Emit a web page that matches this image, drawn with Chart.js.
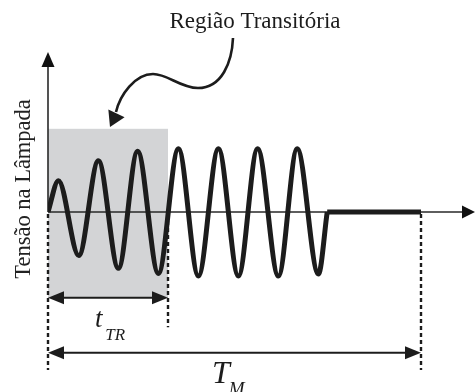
<!DOCTYPE html>
<html>
<head>
<meta charset="utf-8">
<script src="https://cdn.jsdelivr.net/npm/chart.js@4/dist/chart.umd.min.js"></script>
<style>
  html, body { margin: 0; padding: 0; background: #fff; }
  canvas { display: block; }
</style>
</head>
<body>
<canvas id="grafico" width="475" height="392"></canvas>
<script>
// Tempo em períodos da tensão aplicada; tensão normalizada pelo valor de pico em regime
const instantes = [0, 0.26, 0.77, 1.26, 1.76, 2.24, 2.76, 3.26, 3.76, 4.26, 4.76, 5.24, 5.76, 6.23, 6.76, 6.98];
const tensao    = [0, 0.49, -0.68, 0.80, -0.88, 0.95, -0.96, 0.99, -1.00, 0.99, -1.00, 0.99, -1.00, 0.99, -0.97, 0];

// Lâmpada desligada: tensão nula até o fim do intervalo medido
const instantesDesligada = [6.98, 9.325];
const tensaoDesligada    = [0, 0];

// Intervalos marcados no desenho
const regiaoTransitoria = { inicio: 0, fim: 3, topo: 1.30, base: -1.34 };
const intervaloMedido   = { inicio: 0, fim: 9.325, cota: -2.20 };

// Textos
const titulo = 'Região Transitória';
const rotuloEixoY = 'Tensão na Lâmpada';
const rotuloTTR = ['t', 'TR'];
const rotuloTM = ['T', 'M'];

const SERIF = '"Liberation Serif", "Times New Roman", "DejaVu Serif", serif';
const PRETO = '#1c1c1c';

function pontos(xs, ys) {
  return xs.map((v, i) => ({ x: v, y: ys[i] }));
}

// Ponta de seta cheia, com vértice em (tx, ty) apontando na direção (dx, dy)
function seta(ctx, tx, ty, dx, dy, comp, meia) {
  const n = Math.hypot(dx, dy);
  const ux = dx / n, uy = dy / n;
  const bx = tx - ux * comp, by = ty - uy * comp;
  ctx.beginPath();
  ctx.moveTo(tx, ty);
  ctx.lineTo(bx - uy * meia, by + ux * meia);
  ctx.lineTo(bx + uy * meia, by - ux * meia);
  ctx.closePath();
  ctx.fill();
}

function cotaHorizontal(ctx, x1, x2, yy) {
  const comp = 16, meia = 6.5;
  ctx.beginPath();
  ctx.moveTo(x1 + comp - 2, yy);
  ctx.lineTo(x2 - comp + 2, yy);
  ctx.stroke();
  seta(ctx, x1, yy, -1, 0, comp, meia);
  seta(ctx, x2, yy, 1, 0, comp, meia);
}

function linhaTracejada(ctx, xx, y1, y2) {
  ctx.beginPath();
  ctx.moveTo(xx, y1);
  ctx.lineTo(xx, y2);
  ctx.stroke();
}

const desenho = {
  id: 'desenho',
  beforeDatasetsDraw(chart) {
    const { ctx, scales: { x, y } } = chart;
    const X = v => x.getPixelForValue(v), Y = v => y.getPixelForValue(v);
    ctx.save();

    // Faixa cinza da região transitória
    ctx.fillStyle = '#d3d4d6';
    ctx.fillRect(X(regiaoTransitoria.inicio), Y(regiaoTransitoria.topo),
      X(regiaoTransitoria.fim) - X(regiaoTransitoria.inicio),
      Y(regiaoTransitoria.base) - Y(regiaoTransitoria.topo));

    // Eixos com setas
    ctx.strokeStyle = '#2a2a2a';
    ctx.fillStyle = '#111';
    ctx.lineWidth = 1.6;
    ctx.beginPath();
    ctx.moveTo(X(0), Y(0));
    ctx.lineTo(X(x.max) - 10, Y(0));
    ctx.moveTo(X(0), Y(0));
    ctx.lineTo(X(0), Y(y.max) + 10);
    ctx.stroke();
    seta(ctx, X(x.max), Y(0), 1, 0, 13, 6.5);
    seta(ctx, X(0), Y(y.max), 0, -1, 15, 6.5);
    ctx.restore();
  },
  afterDatasetsDraw(chart) {
    const { ctx, scales: { x, y } } = chart;
    const X = v => x.getPixelForValue(v), Y = v => y.getPixelForValue(v);
    ctx.save();
    ctx.strokeStyle = PRETO;
    ctx.fillStyle = PRETO;

    // Linhas de chamada tracejadas
    ctx.lineWidth = 2.4;
    ctx.setLineDash([4, 3]);
    linhaTracejada(ctx, X(intervaloMedido.inicio), Y(0) + 2, Y(-2.47));
    linhaTracejada(ctx, X(regiaoTransitoria.fim), Y(0) + 2, Y(-1.80));
    linhaTracejada(ctx, X(intervaloMedido.fim), Y(0) + 2, Y(-2.47));
    ctx.setLineDash([]);

    // Cotas t_TR e T_M
    ctx.lineWidth = 2;
    cotaHorizontal(ctx, X(regiaoTransitoria.inicio), X(regiaoTransitoria.fim), Y(regiaoTransitoria.base));
    cotaHorizontal(ctx, X(intervaloMedido.inicio), X(intervaloMedido.fim), Y(intervaloMedido.cota));

    // Rótulos das cotas
    ctx.textBaseline = 'alphabetic';
    ctx.textAlign = 'left';
    ctx.font = 'italic 27px ' + SERIF;
    ctx.fillText(rotuloTTR[0], X(1.175), Y(-1.80));
    ctx.font = 'italic 17px ' + SERIF;
    ctx.fillText(rotuloTTR[1], X(1.43), Y(-2.00));
    ctx.font = 'italic 32px ' + SERIF;
    ctx.fillText(rotuloTM[0], X(4.10), Y(-2.67));
    ctx.font = 'italic 19px ' + SERIF;
    ctx.fillText(rotuloTM[1], X(4.52), Y(-2.86));

    // Título e seta curva apontando para a região transitória
    ctx.font = '23px ' + SERIF;
    ctx.textAlign = 'center';
    ctx.fillText(titulo, X(5.175), Y(2.875));

    ctx.lineWidth = 2.6;
    ctx.beginPath();
    ctx.moveTo(X(4.625), Y(2.719));
    ctx.bezierCurveTo(X(4.60), Y(2.344), X(4.35), Y(1.9375), X(3.75), Y(1.9375));
    ctx.bezierCurveTo(X(3.30), Y(1.9375), X(3.00), Y(2.156), X(2.625), Y(2.156));
    ctx.bezierCurveTo(X(2.175), Y(2.156), X(1.80), Y(1.828), X(1.70), Y(1.5625));
    ctx.stroke();
    seta(ctx, X(1.55), Y(1.328), X(1.55) - X(1.72), Y(1.328) - Y(1.55), 15, 9);

    // Rótulo do eixo vertical
    ctx.font = '22.5px ' + SERIF;
    ctx.translate(X(-0.6), Y(0.36));
    ctx.rotate(-Math.PI / 2);
    ctx.textAlign = 'center';
    ctx.textBaseline = 'middle';
    ctx.fillStyle = '#222';
    ctx.fillText(rotuloEixoY, 0, 0);
    ctx.restore();
  }
};

new Chart(document.getElementById('grafico'), {
  type: 'line',
  data: {
    datasets: [
      {
        data: pontos(instantes, tensao),
        borderColor: PRETO,
        borderWidth: 5,
        pointRadius: 0,
        cubicInterpolationMode: 'monotone',
        fill: false
      },
      {
        data: pontos(instantesDesligada, tensaoDesligada),
        borderColor: PRETO,
        borderWidth: 5,
        borderCapStyle: 'butt',
        pointRadius: 0,
        tension: 0,
        fill: false
      }
    ]
  },
  options: {
    responsive: false,
    devicePixelRatio: 1,
    animation: false,
    layout: { padding: { left: 48, right: 0, top: 52, bottom: 20 } },
    scales: {
      x: { type: 'linear', min: 0, max: 10.675, display: false },
      y: { type: 'linear', min: -2.5, max: 2.5, display: false }
    },
    plugins: { legend: { display: false }, tooltip: { enabled: false } }
  },
  plugins: [desenho]
});
</script>
</body>
</html>
